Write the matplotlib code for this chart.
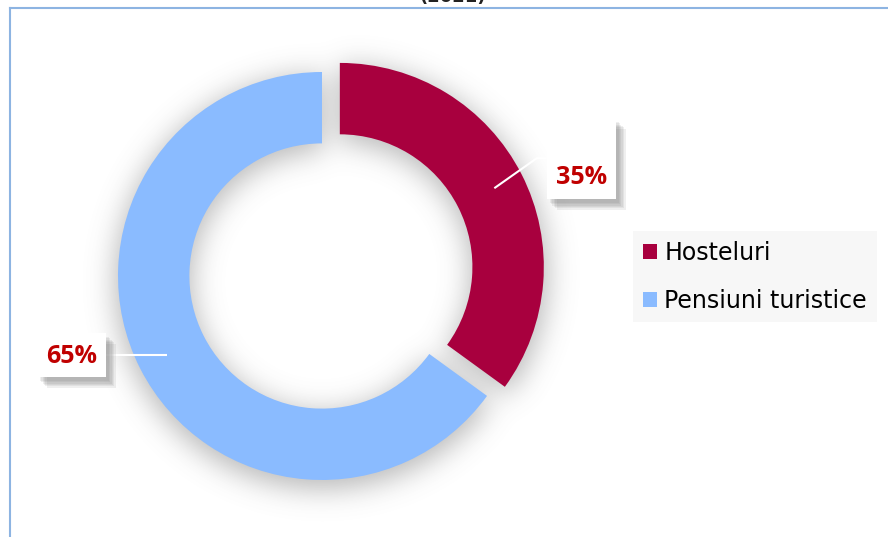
import numpy as np
import matplotlib
matplotlib.use("Agg")
import matplotlib.pyplot as plt
from matplotlib.patches import Patch, Rectangle
import matplotlib.patheffects as pe

# data
categories = ["Hosteluri", "Pensiuni turistice"]
shares = [35, 65]
pct_labels = ["35%", "65%"]
colors = ["#A8003E", "#8ABBFF"]
title = "(2021)"

W, H = 888, 537
fig = plt.figure(figsize=(W / 100, H / 100), dpi=100)
ax = fig.add_axes([0, 0, 1, 1])

R = 204
wedges, _ = ax.pie(
    shares,
    colors=colors,
    startangle=90,
    counterclock=False,
    radius=R,
    center=(322, 261),
    explode=[20, 0],
    wedgeprops=dict(width=R * 0.35, linewidth=0),
    frame=False,
)
ax.axis("off")

# soft shadow under the ring, built from the wedge shapes
X, Y = np.meshgrid(np.arange(W) + 0.5, np.arange(H) + 0.5)
mask = np.zeros((H, W))
for w in wedges:
    cx, cy = w.center
    dx, dy = X - cx, Y + 6 - cy
    rr = np.hypot(dx, dy)
    ang = np.degrees(np.arctan2(dy, dx)) % 360
    t1, t2 = w.theta1 % 360, w.theta2 % 360
    if t1 <= t2:
        inang = (ang >= t1) & (ang <= t2)
    else:
        inang = (ang >= t1) | (ang <= t2)
    mask[(rr <= w.r + 3) & (rr >= w.r - w.width - 2) & inang] = 1.0

sig = 14
k = np.exp(-0.5 * (np.arange(-3 * sig, 3 * sig + 1) / sig) ** 2)
k /= k.sum()
blur = np.apply_along_axis(lambda v: np.convolve(v, k, mode="same"), 1, mask)
blur = np.apply_along_axis(lambda v: np.convolve(v, k, mode="same"), 0, blur)
shadow = np.zeros((H, W, 4))
shadow[..., :3] = 0.42
shadow[..., 3] = np.clip(blur * 1.4, 0, 1) * 0.34
ax.imshow(shadow, extent=(0, W, 0, H), origin="lower", zorder=0, interpolation="bilinear")
for w in wedges:
    w.set_zorder(2)
ax.set_xlim(0, W)
ax.set_ylim(0, H)
ax.set_aspect("auto")

# percentage label boxes with leader lines
# (box centre offset from the anchor, box size, text offset inside box, bend before box)
box_off = [(87, 30), (-96, 0)]
box_size = [(69, 81), (69, 44)]
text_dy = [-19, -2]
bend = [10, 0]
box_shadow = [pe.withSimplePatchShadow(offset=(o, -o - 1), shadow_rgbFace="0.4", alpha=0.1)
              for o in (7, 6, 5, 4, 3, 2)]
for w, lab, off, size, tdy, bd in zip(wedges, pct_labels, box_off, box_size, text_dy, bend):
    mid = np.radians((w.theta1 + w.theta2) / 2)
    cx, cy = w.center
    ax0 = cx + 0.85 * w.r * np.cos(mid)
    ay0 = cy + 0.85 * w.r * np.sin(mid)
    bx, by = ax0 + off[0], ay0 + off[1]
    bw, bh = size
    rect = Rectangle((bx - bw / 2, by - bh / 2), bw, bh, fc="white", ec="none", zorder=5)
    rect.set_path_effects(box_shadow + [pe.Normal()])
    ax.add_patch(rect)
    ax.text(bx, by + tdy, lab, ha="center", va="center", fontsize=18,
            fontweight="bold", family="Open Sans", color="#C00000", zorder=6)
    edge = bx - bw / 2 if off[0] > 0 else bx + bw / 2
    sgn = 1 if off[0] > 0 else -1
    ax.plot([ax0, edge - sgn * bd, edge], [ay0, by, by], color="white", lw=1.5,
            zorder=4, solid_capstyle="butt")

# legend
handles = [Patch(facecolor=c, edgecolor="none") for c in colors]
leg = fig.legend(
    handles,
    categories,
    loc="upper left",
    bbox_to_anchor=(633 / W, 1 - 231 / H),
    frameon=True,
    fancybox=False,
    fontsize=17,
    handlelength=0.6,
    handleheight=0.6,
    handletextpad=0.3,
    labelspacing=1.0,
    borderpad=0.42,
    borderaxespad=0,
)
leg.get_frame().set_facecolor("#F7F7F7")
leg.get_frame().set_edgecolor("none")
leg.get_frame().set_alpha(1)

# chart area border and cut-off title
ax.plot([10, 10], [0, H - 8], color="#8DB4E2", lw=1.5, zorder=1)
ax.plot([10, W], [H - 8, H - 8], color="#8DB4E2", lw=1.5, zorder=1)
fig.text(453 / W, 1 - 1.5 / H, title, ha="center", va="baseline",
         fontsize=13, fontweight="bold", color="#222222")

fig.savefig("out.png", dpi=100)
